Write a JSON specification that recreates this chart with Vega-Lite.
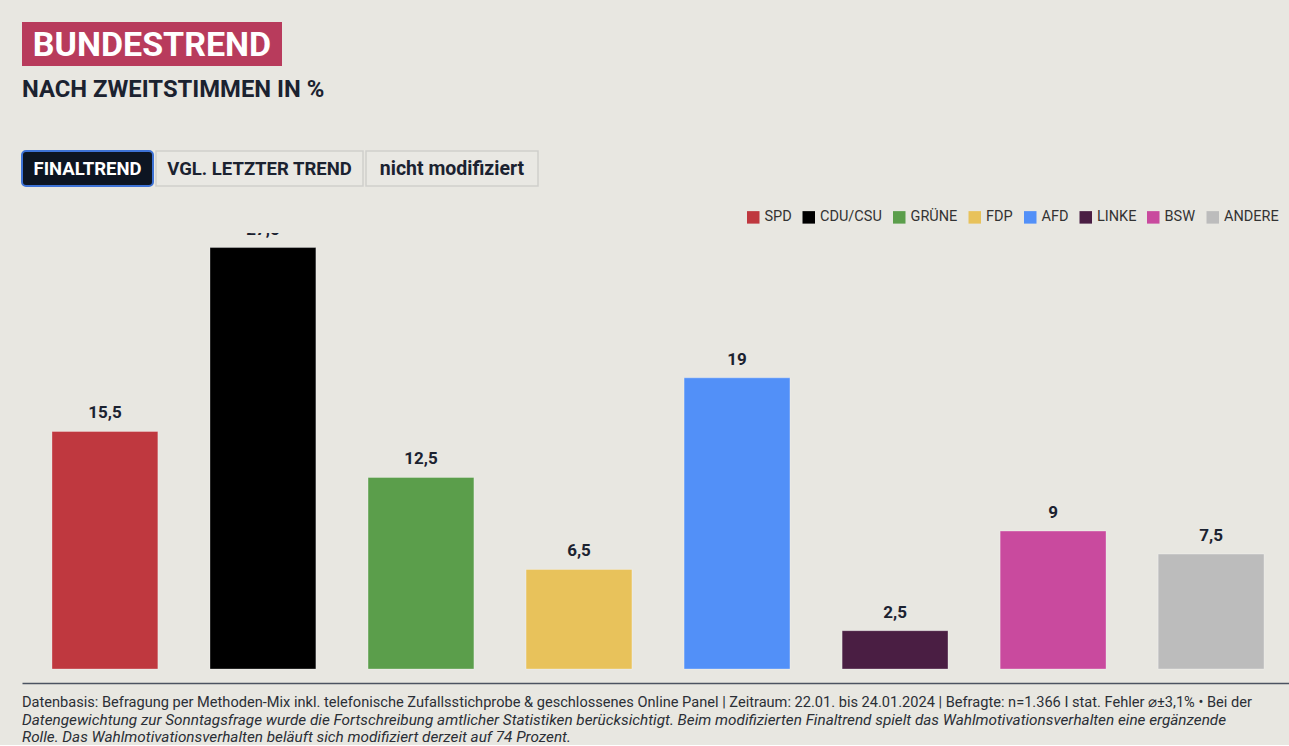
{
  "$schema": "https://vega.github.io/schema/vega-lite/v6.json",
  "background": "#e8e7e1",
  "padding": {"left": 21, "top": 0, "right": 0, "bottom": 0},
  "spacing": 10,
  "config": {
    "view": {"stroke": null},
    "font": "Roboto",
    "locale": {"number": {"decimal": ",", "thousands": ".", "grouping": [3], "currency": ["", " €"]}}
  },
  "resolve": {"scale": {"x": "independent", "y": "independent", "color": "independent"}},
  "vconcat": [
    {
      "width": 1268,
      "height": 200,
      "data": {"values": [{}]},
      "encoding": {
        "x": {"type": "quantitative", "scale": {"domain": [0, 1268], "nice": false, "zero": false}, "axis": null},
        "y": {"type": "quantitative", "scale": {"domain": [0, 200], "nice": false, "zero": false, "reverse": true}, "axis": null}
      },
      "layer": [
        {"mark": {"type": "rect", "fill": "#b83b5c"}, "encoding": {"x": {"datum": 0}, "x2": {"datum": 260}, "y": {"datum": 22}, "y2": {"datum": 66}}},
        {"mark": {"type": "text", "text": "BUNDESTREND", "align": "center", "baseline": "alphabetic", "font": "Roboto", "fontSize": 34, "fontWeight": "bold", "fill": "#ffffff"}, "encoding": {"x": {"datum": 130}, "y": {"datum": 56}}},
        {"mark": {"type": "text", "text": "NACH ZWEITSTIMMEN IN %", "align": "left", "baseline": "alphabetic", "font": "Roboto", "fontSize": 23.8, "fontWeight": "bold", "fill": "#1b2230"}, "encoding": {"x": {"datum": 0}, "y": {"datum": 97}}},
        {"mark": {"type": "rect", "fill": "#0d1522", "stroke": "#3d72d6", "strokeWidth": 2, "cornerRadius": 4}, "encoding": {"x": {"datum": 0}, "x2": {"datum": 131}, "y": {"datum": 151}, "y2": {"datum": 186}}},
        {"mark": {"type": "rect", "fill": "#e9e8e3", "stroke": "#cfcfcc", "strokeWidth": 1.5}, "encoding": {"x": {"datum": 134}, "x2": {"datum": 341}, "y": {"datum": 151}, "y2": {"datum": 186}}},
        {"mark": {"type": "rect", "fill": "#e9e8e3", "stroke": "#cfcfcc", "strokeWidth": 1.5}, "encoding": {"x": {"datum": 344}, "x2": {"datum": 516}, "y": {"datum": 151}, "y2": {"datum": 186}}},
        {"mark": {"type": "text", "text": "FINALTREND", "align": "center", "baseline": "middle", "font": "Roboto", "fontSize": 18.5, "fontWeight": "bold", "fill": "#ffffff"}, "encoding": {"x": {"datum": 65.5}, "y": {"datum": 168.5}}},
        {"mark": {"type": "text", "text": "VGL. LETZTER TREND", "align": "center", "baseline": "middle", "font": "Roboto", "fontSize": 18.5, "fontWeight": "bold", "fill": "#1b2230"}, "encoding": {"x": {"datum": 237.5}, "y": {"datum": 168.5}}},
        {"mark": {"type": "text", "text": "nicht modifiziert", "align": "center", "baseline": "middle", "font": "Roboto", "fontSize": 19.5, "fontWeight": "bold", "fill": "#1b2230"}, "encoding": {"x": {"datum": 430}, "y": {"datum": 168.5}}}
      ]
    },
    {
      "width": 1268,
      "height": 436,
      "data": {"values": [
        {"partei": "SPD", "wert": 15.5},
        {"partei": "CDU/CSU", "wert": 27.5},
        {"partei": "GRÜNE", "wert": 12.5},
        {"partei": "FDP", "wert": 6.5},
        {"partei": "AFD", "wert": 19},
        {"partei": "LINKE", "wert": 2.5},
        {"partei": "BSW", "wert": 9},
        {"partei": "ANDERE", "wert": 7.5}
      ]},
      "title": {
        "text": "Datenbasis: Befragung per Methoden-Mix inkl. telefonische Zufallsstichprobe & geschlossenes Online Panel | Zeitraum: 22.01. bis 24.01.2024 | Befragte: n=1.366 I stat. Fehler ⌀±3,1% • Bei der",
        "subtitle": [
          "Datengewichtung zur Sonntagsfrage wurde die Fortschreibung amtlicher Statistiken berücksichtigt. Beim modifizierten Finaltrend spielt das Wahlmotivationsverhalten eine ergänzende",
          "Rolle. Das Wahlmotivationsverhalten beläuft sich modifiziert derzeit auf 74 Prozent."
        ],
        "orient": "bottom",
        "anchor": "start",
        "font": "Roboto",
        "fontSize": 14.6,
        "fontWeight": "normal",
        "color": "#2b2f36",
        "subtitleFont": "Roboto",
        "subtitleFontSize": 15.3,
        "subtitleFontStyle": "italic",
        "subtitleColor": "#2b2f36",
        "subtitlePadding": 3,
        "subtitleLineHeight": 17,
        "offset": 12
      },
      "encoding": {
        "x": {
          "field": "partei", "type": "nominal", "sort": null,
          "scale": {"paddingInner": 0.33, "paddingOuter": 0.177, "align": 0.536},
          "axis": {"labels": false, "ticks": false, "domain": true, "domainColor": "#4b5361", "domainWidth": 1.5, "offset": 14, "title": null, "grid": false}
        },
        "y": {
          "field": "wert", "type": "quantitative",
          "scale": {"domain": [0, 28.45], "nice": false},
          "axis": null
        }
      },
      "layer": [
        {
          "mark": {"type": "bar", "stroke": "#ffffff", "strokeOpacity": 0.3, "strokeWidth": 1},
          "encoding": {
            "color": {
              "field": "partei", "type": "nominal",
              "scale": {
                "domain": ["SPD", "CDU/CSU", "GRÜNE", "FDP", "AFD", "LINKE", "BSW", "ANDERE"],
                "range": ["#bf383f", "#000000", "#5b9e4b", "#e8c25b", "#5290f8", "#4a1e43", "#c94a9e", "#bcbcbc"]
              },
              "legend": {
                "title": null, "orient": "none", "legendX": 724, "legendY": -23,
                "direction": "horizontal", "columns": 8, "padding": 0,
                "symbolType": "square", "symbolSize": 156, "symbolStrokeWidth": 0,
                "labelFont": "Roboto", "labelFontSize": 14.5, "labelColor": "#333333",
                "labelOffset": 4, "columnPadding": 9.5
              }
            }
          }
        },
        {
          "mark": {"type": "text", "dy": -13, "baseline": "alphabetic", "align": "center", "font": "Roboto", "fontSize": 17, "fontWeight": "bold", "color": "#1b2230", "clip": true},
          "encoding": {"text": {"field": "wert", "type": "quantitative", "format": ".1~f"}}
        }
      ]
    }
  ]
}
